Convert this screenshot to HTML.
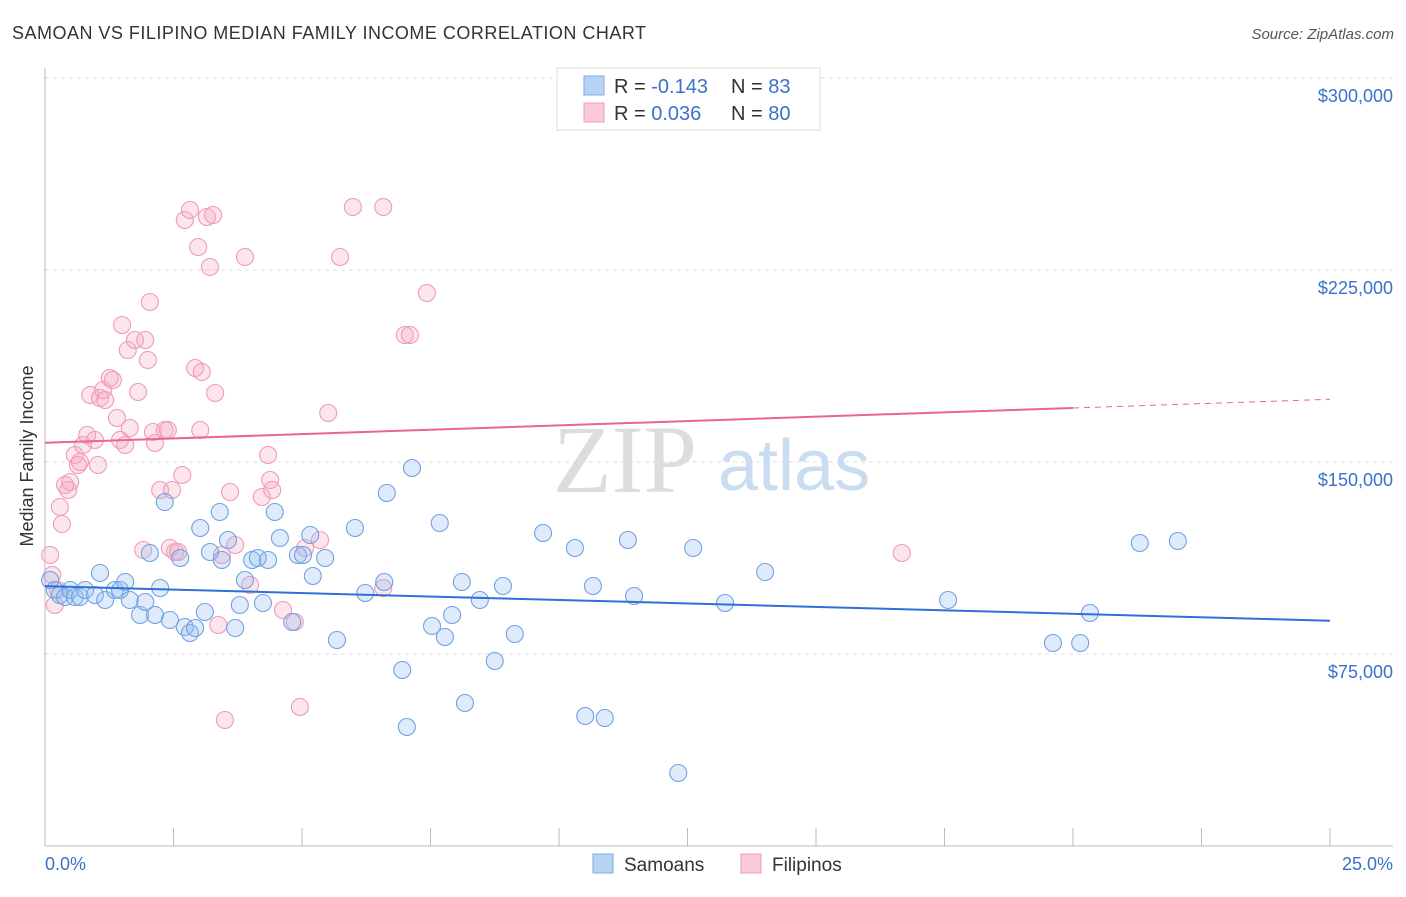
<!DOCTYPE html>
<html><head><meta charset="utf-8"><style>
body{margin:0;background:#fff;font-family:"Liberation Sans",sans-serif;}
svg text{font-family:"Liberation Sans",sans-serif;}
</style></head><body>
<svg id="chart" width="1406" height="892" xmlns="http://www.w3.org/2000/svg">
<text x="12" y="39" font-size="18" fill="#333" textLength="634">SAMOAN VS FILIPINO MEDIAN FAMILY INCOME CORRELATION CHART</text>
<text x="1394" y="39" font-size="15" fill="#555" text-anchor="end" font-style="italic">Source: ZipAtlas.com</text>
<g id="grid"></g>
<text x="553" y="492" font-size="96" fill="#ddd" font-family="Liberation Serif" style="font-family:'Liberation Serif',serif">ZIP</text>
<text x="718" y="490" font-size="72" fill="#c9dcf0">atlas</text>
<g id="pts"></g>
<g id="lines"></g>
<text transform="translate(33,456) rotate(-90)" font-size="18" fill="#333" text-anchor="middle">Median Family Income</text>
<text x="45" y="870" font-size="18" fill="#3a72c8">0.0%</text>
<text x="1393" y="870" font-size="18" fill="#3a72c8" text-anchor="end">25.0%</text>
<g>
<rect x="557" y="68" width="263" height="62" fill="#fff" stroke="#ddd"/>
<rect x="584" y="76" width="20" height="19" fill="#b8d3f3" stroke="#7eaee8"/>
<rect x="584" y="103" width="20" height="19" fill="#fbcbd9" stroke="#f09ab5"/>
<text x="614" y="93" font-size="20" fill="#333">R = <tspan fill="#3a72c8">-0.143</tspan><tspan x="731">N = </tspan><tspan fill="#3a72c8">83</tspan></text>
<text x="614" y="120" font-size="20" fill="#333">R = <tspan fill="#3a72c8"> 0.036</tspan><tspan x="731">N = </tspan><tspan fill="#3a72c8">80</tspan></text>
</g>
<g>
<rect x="593" y="854" width="20" height="19" fill="#b8d3f3" stroke="#7eaee8"/>
<text x="624" y="871" font-size="19" fill="#333">Samoans</text>
<rect x="741" y="854" width="20" height="19" fill="#fbcbd9" stroke="#f09ab5"/>
<text x="772" y="871" font-size="19" fill="#333">Filipinos</text>
</g>
</svg>
<script>
const yTicks=[75000,150000,225000,300000];
const yTickLabels=["$75,000","$150,000","$225,000","$300,000"];
const samoanPx=[[50,580],[55,590],[60,595],[65,597],[70,590],[75,597],[80,597],[85,590],[95,595],[100,573],[105,600],[115,590],[120,590],[125,582],[130,600],[140,615],[145,602],[150,553],[155,615],[160,588],[165,502],[170,620],[180,558],[185,627],[190,633],[195,628],[200,528],[205,612],[210,552],[220,512],[222,560],[228,540],[235,628],[240,605],[245,580],[252,560],[258,558],[263,603],[268,560],[275,512],[280,538],[292,622],[298,555],[303,555],[310,535],[313,576],[325,558],[337,640],[355,528],[365,593],[384,582],[387,493],[402,670],[407,727],[412,468],[432,626],[440,523],[445,637],[452,615],[462,582],[465,703],[480,600],[495,661],[503,586],[515,634],[543,533],[575,548],[585,716],[593,586],[605,718],[628,540],[634,596],[678,773],[693,548],[725,603],[765,572],[948,600],[1053,643],[1080,643],[1090,613],[1140,543],[1178,541]];
const filipinoPx=[[50,555],[52,575],[55,605],[58,590],[60,507],[62,524],[65,485],[68,490],[70,482],[75,455],[78,465],[80,462],[83,445],[87,435],[90,395],[95,440],[98,465],[100,398],[103,390],[105,400],[110,378],[113,380],[117,418],[120,440],[122,325],[125,445],[128,350],[130,428],[135,340],[138,392],[143,550],[145,340],[148,360],[150,302],[153,432],[155,443],[160,490],[165,430],[168,430],[170,548],[172,490],[175,552],[178,552],[182,475],[185,220],[190,210],[195,368],[198,247],[200,430],[202,372],[207,217],[210,267],[213,215],[215,393],[218,625],[222,555],[225,720],[230,492],[235,545],[245,257],[250,585],[262,497],[268,455],[270,480],[272,490],[283,610],[295,622],[300,707],[305,548],[320,540],[328,413],[340,257],[353,207],[383,207],[383,588],[405,335],[410,335],[427,293],[902,553]];
const samoanX=samoanPx.map(p=>+((p[0]-45)/51.4).toFixed(2));
const samoanY=samoanPx.map(p=>Math.round((846-p[1])*390.625));
const filipinoX=filipinoPx.map(p=>+((p[0]-45)/51.4).toFixed(2));
const filipinoY=filipinoPx.map(p=>Math.round((846-p[1])*390.625));
const samoanTrend=[101500,88000];
const filipinoTrend=[157500,174500];

const NS="http://www.w3.org/2000/svg";
const X0=45,X1=1330;
const xs=v=>X0+v/25*(X1-X0);
const ys=v=>846-v/75000*192;
function mk(t,a,parent){const e=document.createElementNS(NS,t);for(const k in a)e.setAttribute(k,a[k]);parent.appendChild(e);return e;}
const grid=document.getElementById('grid');
yTicks.forEach((t,i)=>{
 const l=mk('line',{x1:45,x2:1393,y1:ys(t),y2:ys(t),stroke:'#ddd','stroke-dasharray':'4,4'},grid);
 
 
 const tx=mk('text',{x:1393,y:ys(t)+24,'font-size':18,fill:'#3a72c8','text-anchor':'end'},grid);
 tx.textContent=yTickLabels[i];
 
 
});
const ax=mk('line',{x1:45,x2:45,y1:68,y2:846,stroke:'#bbb'},grid);


const bx=mk('line',{x1:45,x2:1393,y1:846,y2:846,stroke:'#bbb'},grid);


for(let i=0;i<=10;i++){const x=X0+i*(X1-X0)/10;const t=mk('line',{x1:x,x2:x,y1:828,y2:846,stroke:'#bbb'},grid);
 
 }
const pts=document.getElementById('pts');
filipinoX.forEach((x,i)=>{const c=mk('circle',{cx:xs(x),cy:ys(filipinoY[i]),r:8.5,fill:'rgba(246,170,195,0.3)',stroke:'#f09ab5','stroke-width':1.1},pts);
 
 });
samoanX.forEach((x,i)=>{const c=mk('circle',{cx:xs(x),cy:ys(samoanY[i]),r:8.5,fill:'rgba(150,190,240,0.3)',stroke:'#6fa2e3','stroke-width':1.1},pts);
 
 });
const lines=document.getElementById('lines');
const sl=mk('line',{x1:xs(0),y1:ys(samoanTrend[0]),x2:xs(25),y2:ys(samoanTrend[1]),stroke:'#2f6fd6','stroke-width':2},lines);


const fEnd=20;
const fy=v=>filipinoTrend[0]+(filipinoTrend[1]-filipinoTrend[0])*v/25;
const fl=mk('line',{x1:xs(0),y1:ys(fy(0)),x2:xs(fEnd),y2:ys(fy(fEnd)),stroke:'#e96592','stroke-width':2},lines);


const fd=mk('line',{x1:xs(fEnd),y1:ys(fy(fEnd)),x2:xs(25),y2:ys(fy(25)),stroke:'#e96592','stroke-width':1,'stroke-dasharray':'6,5'},lines);


</script>
</body></html>
